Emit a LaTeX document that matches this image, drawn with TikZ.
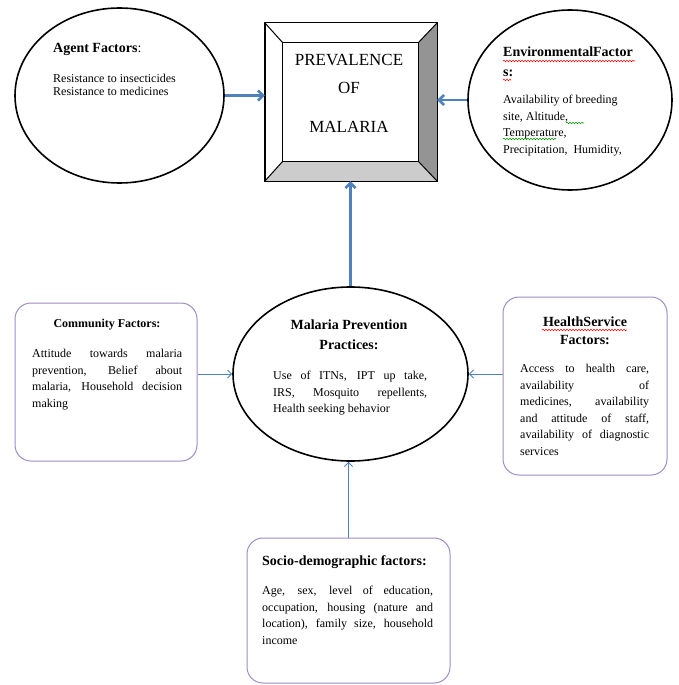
\documentclass[tikz,border=0pt]{standalone}
\usepackage{fontspec}
\setmainfont{Liberation Serif}
\usetikzlibrary{shapes.geometric, arrows.meta, positioning, calc, decorations.pathmorphing}
\definecolor{linkblue}{HTML}{4F81BD}
\definecolor{boxpurple}{HTML}{A08CC6}

\begin{document}
\begin{tikzpicture}[x=1pt, y=-1pt,
    oval/.style={ellipse, draw=black, line width=1.6pt, inner sep=0pt},
    factor/.style={rectangle, rounded corners=16pt, draw=boxpurple, line width=1pt, inner sep=0pt},
    title/.style={font=\fontsize{14}{20}\selectfont\bfseries, inner sep=0pt, align=center},
    body/.style={font=\fontsize{12}{16.5}\selectfont, inner sep=0pt, anchor=north west, align=left},
    para/.style={body, align=justify},
    bigarrow/.style={-{Straight Barb[length=5pt, width=10pt]}, linkblue, line width=2.6pt},
    thinarrow/.style={-{Straight Barb[length=4pt, width=8pt]}, linkblue, line width=1pt},
    spell/.style={decorate, decoration={snake, amplitude=0.7pt, segment length=3pt}, line width=0.6pt}
]
\useasboundingbox (0,0) rectangle (678,685);

% Top row: outcome and its two neighbours
\node[oval, minimum width=209pt, minimum height=175pt] (agent) at (119.5,95.5) {};
\node[oval, minimum width=204pt, minimum height=180pt] (env) at (570,100) {};
\node[rectangle, minimum width=172pt, minimum height=158pt, inner sep=0pt] (prev) at (351,102) {};

\coordinate (inNW) at ($(prev.north west)+(18,20)$);
\coordinate (inSE) at ($(prev.south east)+(-19,-20)$);
\coordinate (inNE) at (inSE |- inNW);
\coordinate (inSW) at (inNW |- inSE);

\fill[black!42] (prev.north east) -- (prev.south east) -- (inSE) -- (inNE) -- cycle;
\fill[black!20] (prev.south west) -- (prev.south east) -- (inSE) -- (inSW) -- cycle;
\draw[line width=1.4pt] (prev.north west) rectangle (prev.south east);
\draw[line width=1pt] (inNW) rectangle (inSE);
\draw[line width=1pt] (prev.north west) -- (inNW);
\draw[line width=1pt] (prev.north east) -- (inNE);
\draw[line width=1pt] (prev.south west) -- (inSW);
\draw[line width=1pt] (prev.south east) -- (inSE);

\node[font=\fontsize{17}{28}\selectfont, align=center, anchor=north, inner sep=0pt] (prevtxt) at (349,54) {PREVALENCE\\OF\\[11pt]MALARIA};

% Agent factors
\node[title, anchor=west] (agenttitle) at (53,49) {Agent Factors\textmd{:}};
\node[body, font=\fontsize{12}{13}\selectfont] (agenttxt) at (53,74) {Resistance to insecticides\\Resistance to medicines};

% Environmental factors
\node[title, anchor=north west, align=left] (envtitle) at (503,47) {EnvironmentalFactor\\s:};
\node[body] (envtxt) at (503,95) {Availability of breeding\\site, Altitude,\\Temperature,\\Precipitation,\ \ Humidity,};
\draw[spell, red] (503,61) -- (635,61);
\draw[spell, red] (503,80) -- (511,80);
\draw[spell, green!60!black] (566,123) -- (584,123);
\draw[spell, green!60!black] (503,139) -- (556,139);

% Middle row
\node[oval, minimum width=235pt, minimum height=174pt] (prac) at (350.5,374) {};
\node[factor, minimum width=182pt, minimum height=158pt] (comm) at (106,382) {};
\node[factor, minimum width=164pt, minimum height=178pt] (health) at (585,386) {};

\node[title, font=\fontsize{12}{14}\selectfont\bfseries] (commtitle) at (107,325) {Community Factors:};
\node[para, text width=150pt] (commtxt) at (32,349) {Attitude towards malaria\linebreak prevention, Belief about\linebreak malaria, Household decision\linebreak making};

\node[title, anchor=north] (practitle) at (349,320) {Malaria Prevention\\Practices:};
\node[para, text width=154pt] (practxt) at (273,371) {Use of ITNs, IPT up take,\linebreak IRS, Mosquito repellents,\linebreak Health seeking behavior};

\node[title, anchor=north, font=\fontsize{14}{18}\selectfont\bfseries] (healthtitle) at (585,317) {HealthService\\Factors:};
\draw[spell, red] (542,330) -- (627,330);
\node[para, text width=129pt] (healthtxt) at (520,364) {Access to health care,\linebreak availability of\linebreak medicines, availability\linebreak and attitude of staff,\linebreak availability of diagnostic\linebreak services};

% Bottom row
\node[factor, minimum width=203pt, minimum height=145pt] (socio) at (348.5,610.5) {};
\node[title, anchor=west] (sociotitle) at (262,562) {Socio-demographic factors:};
\node[para, text width=171pt] (sociotxt) at (262,586) {Age, sex, level of education,\linebreak occupation, housing (nature and\linebreak location), family size, household\linebreak income};

% Connectors
\draw[bigarrow] (agent.east) -- (agent.east -| prev.west);
\draw[bigarrow] (env.west) -- (env.west -| prev.east);
\draw[bigarrow] (prac.north) -- (prac.north |- prev.south);
\draw[thinarrow] (comm.east |- prac.west) -- (prac.west);
\draw[thinarrow] (health.west |- prac.east) -- (prac.east);
\draw[thinarrow] (socio.north) -- (socio.north |- prac.south);

\end{tikzpicture}
\end{document}
